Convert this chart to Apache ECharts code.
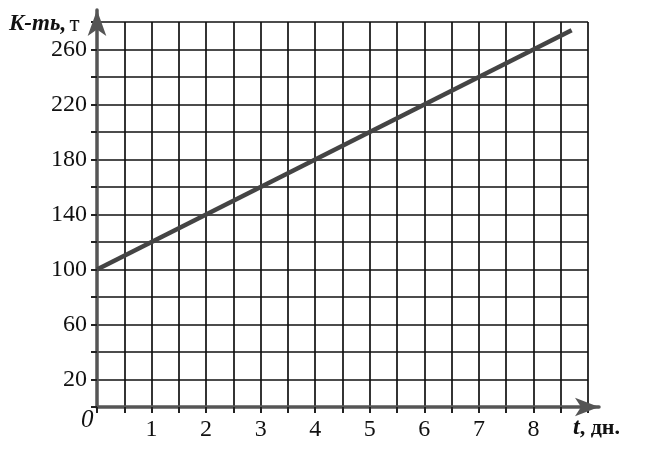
<!DOCTYPE html>
<html><head><meta charset="utf-8">
<script src="https://cdn.jsdelivr.net/npm/echarts@6/dist/echarts.min.js"></script>
<style>html,body{margin:0;padding:0;background:#fff}#c{width:668px;height:455px}</style>
</head><body><div id="c"></div>
<script>
const days = [0, 8.7];
const amount = [100, 274];
const xTickLabels = [1, 2, 3, 4, 5, 6, 7, 8];
const yTickLabels = [20, 60, 100, 140, 180, 220, 260];
const yTitle = 'K-mь, т';
const xTitle = 't, дн.';

const serif = 'Liberation Serif';
const chart = echarts.init(document.getElementById('c'));
chart.setOption({
  animation: false,
  backgroundColor: '#fff',
  grid: [
    {left: 97, right: 80, top: 22, bottom: 48},
    {left: 97, right: 69, top: 10, bottom: 48}
  ],
  xAxis: [
    {type: 'value', gridIndex: 0, min: 0, max: 9, interval: 0.5,
     axisLine: {show: false},
     axisTick: {show: true, length: 6, inside: false, lineStyle: {color: '#222', width: 2}},
     splitLine: {show: true, lineStyle: {color: '#111', width: 1.7}},
     axisLabel: {margin: 11, color: '#111', fontFamily: serif, fontSize: 24,
       formatter: v => xTickLabels.includes(v) ? String(v) : ''}},
    {type: 'value', gridIndex: 1, min: 0, max: 1, show: true,
     axisLine: {show: true, symbol: ['none', 'arrow'], symbolSize: [14, 24], lineStyle: {color: '#555', width: 3.5}},
     axisTick: {show: false}, axisLabel: {show: false}, splitLine: {show: false}}
  ],
  yAxis: [
    {type: 'value', gridIndex: 0, min: 0, max: 280, interval: 20,
     axisLine: {show: false},
     axisTick: {show: true, length: 6, lineStyle: {color: '#222', width: 2}},
     splitLine: {show: true, lineStyle: {color: '#111', width: 1.7}},
     axisLabel: {margin: 10, color: '#111', fontFamily: serif, fontSize: 24,
       formatter: v => yTickLabels.includes(v) ? String(v) : ''}},
    {type: 'value', gridIndex: 1, min: 0, max: 1, show: true,
     axisLine: {show: true, symbol: ['none', 'arrow'], symbolSize: [14, 26], lineStyle: {color: '#555', width: 3.5}},
     axisTick: {show: false}, axisLabel: {show: false}, splitLine: {show: false}}
  ],
  series: [{
    type: 'line', xAxisIndex: 0, yAxisIndex: 0,
    data: days.map((d, i) => [d, amount[i]]),
    showSymbol: false, lineStyle: {color: '#444', width: 4.5}, z: 5
  }],
  graphic: [
    {type: 'text', left: 9, top: 13, style: {
      text: '{a|K-mь,} {b|т}', rich: {
        a: {fontFamily: serif, fontStyle: 'italic', fontWeight: 'bold', fontSize: 23, fill: '#111'},
        b: {fontFamily: serif, fontSize: 23, fill: '#111'}}}},
    {type: 'text', left: 573, top: 416, style: {
      text: '{a|t}{b|, дн.}', rich: {
        a: {fontFamily: serif, fontStyle: 'italic', fontWeight: 'bold', fontSize: 24, fill: '#111'},
        b: {fontFamily: serif, fontWeight: 'bold', fontSize: 22, fill: '#111'}}}},
    {type: 'text', left: 81, top: 408, style: {
      text: '0', fontFamily: serif, fontStyle: 'italic', fontSize: 25, fill: '#111'}}
  ]
});
</script></body></html>
